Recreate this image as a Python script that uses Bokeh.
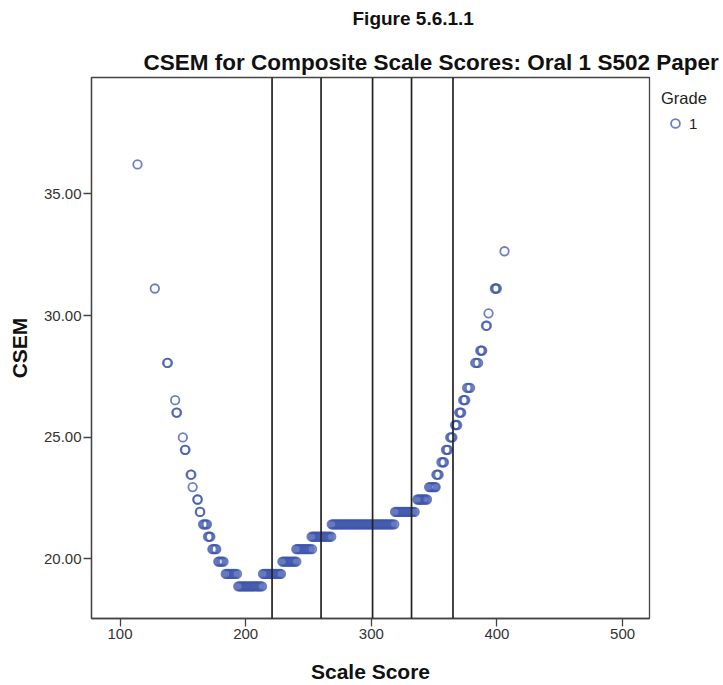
from bokeh.plotting import figure
from bokeh.models import (Span, Legend, LegendItem, FixedTicker, Title,
                          PrintfTickFormatter, Range1d, ColumnDataSource)
from bokeh.embed import file_html
from bokeh.resources import INLINE

# ---- data ----
csem_levels = [36.21, 32.64, 31.11, 30.09, 29.58, 28.56, 28.05, 27.03, 26.52,
               26.01, 25.50, 24.99, 24.48, 23.97, 23.46, 22.95, 22.44, 21.93,
               21.42, 20.91, 20.40, 19.89, 19.38, 18.87]

score_groups = [
    [113.9],                                                   # 36.21
    [406.0],                                                   # 32.64
    [127.7, 398.3, 399.1, 399.9],                              # 31.11
    [393.3],                                                   # 30.09
    [391.2, 392.0],                                            # 29.58
    [386.7, 387.5, 388.3],                                     # 28.56
    [137.5, 138.1, 382.7, 383.8, 385.0],                       # 28.05
    [376.2, 377.4, 378.6],                                     # 27.03
    [143.9, 373.1, 374.0, 374.8],                              # 26.52
    [144.8, 145.4, 369.9, 370.8, 371.6],                       # 26.01
    [366.6, 367.5, 368.4],                                     # 25.50
    [150.0, 362.8, 363.7, 364.5],                              # 24.99
    [151.6, 152.1, 359.4, 360.3, 361.1],                       # 24.48
    [355.8, 356.9, 357.8],                                     # 23.97
    [156.2, 156.8, 351.8, 352.7, 353.6],                       # 23.46
    [157.8, 346.0, 347.1, 348.2, 349.3, 350.4, 351.2],         # 22.95
    [161.5, 161.9, 336.6, 337.7, 338.8, 339.9, 341.0, 342.1,
     343.2, 344.3],                                            # 22.44
    [163.5, 163.9, 318.9, 320.0, 321.1, 322.2, 323.3, 324.4,
     325.5, 326.6, 327.7, 328.8, 329.9, 331.0, 332.1, 333.2,
     334.5],                                                   # 21.93
    [166.1, 167.1, 168.2, 169.2, 268.5, 269.6, 270.7, 271.8,
     272.9, 274.0, 275.1, 276.2, 277.3, 278.4, 279.5, 280.6,
     281.7, 282.8, 283.9, 285.0, 286.1, 287.2, 288.3, 289.4,
     290.5, 291.6, 292.7, 293.8, 294.9, 296.0, 297.1, 298.2,
     299.3, 300.4, 301.5, 302.6, 303.7, 304.8, 305.9, 307.0,
     308.1, 309.2, 310.3, 311.4, 312.5, 313.6, 314.7, 315.8,
     316.9, 318.3],                                            # 21.42
    [170.0, 171.0, 171.9, 252.5, 253.6, 254.7, 255.8, 256.9,
     258.0, 259.1, 260.2, 261.3, 262.4, 263.5, 264.6, 265.7,
     266.8, 268.1],                                            # 20.91
    [173.5, 174.5, 175.6, 176.6, 240.3, 241.4, 242.5, 243.6,
     244.7, 245.8, 246.9, 248.0, 249.1, 250.2, 251.3, 252.8],  # 20.40
    [178.2, 179.2, 180.3, 181.3, 182.4, 229.2, 230.3, 231.4,
     232.5, 233.6, 234.7, 235.8, 236.9, 238.0, 239.1, 240.3],  # 19.89
    [184.1, 185.2, 186.3, 187.4, 188.5, 189.6, 190.7, 191.8,
     193.1, 213.8, 214.9, 216.0, 217.1, 218.2, 219.3, 220.4,
     221.5, 222.6, 223.7, 224.8, 225.9, 227.0, 228.1],         # 19.38
    [194.1, 195.2, 196.3, 197.4, 198.5, 199.6, 200.7, 201.8,
     202.9, 204.0, 205.1, 206.2, 207.3, 208.4, 209.5, 210.6,
     211.8, 213.0],                                            # 18.87
]

cut_scores = [221, 260, 301, 332, 365]
x_ticks = [100, 200, 300, 400, 500]
y_ticks = [20, 25, 30, 35]
grade_label = "1"

# table for the glyph
xs, ys = [], []
for lvl, grp in zip(csem_levels, score_groups):
    xs.extend(grp)
    ys.extend([lvl] * len(grp))
src = ColumnDataSource(dict(score=xs, csem=ys))

FONT = "Liberation Sans"
DARK = "#3D56AB"

p = figure(frame_width=558, frame_height=541, output_backend="svg",
           toolbar_location=None,
           x_range=Range1d(77.3, 521.4), y_range=Range1d(17.55, 39.78),
           min_border_left=91, min_border_right=74, min_border_top=77,
           min_border_bottom=67, background_fill_color="white",
           border_fill_color="white")
p.xgrid.visible = False
p.ygrid.visible = False
p.outline_line_color = "#444444"
p.outline_line_width = 1.3

for ax in (p.xaxis[0], p.yaxis[0]):
    ax.axis_line_color = "#444444"
    ax.axis_line_width = 1.3
    ax.major_tick_line_color = "#444444"
    ax.major_tick_line_width = 1.3
    ax.major_tick_out = 8
    ax.major_tick_in = 0
    ax.minor_tick_line_color = None
    ax.major_label_text_font = FONT
    ax.major_label_text_font_size = "15px"
    ax.major_label_text_color = "#333333"
    ax.major_label_standoff = 2
    ax.axis_label_text_font = FONT
    ax.axis_label_text_font_size = "21px"
    ax.axis_label_text_font_style = "bold"
    ax.axis_label_text_color = "#111111"

p.xaxis.ticker = FixedTicker(ticks=x_ticks)
p.yaxis.ticker = FixedTicker(ticks=y_ticks)
p.yaxis.formatter = PrintfTickFormatter(format="%.2f")
p.xaxis.axis_label = "Scale Score"
p.yaxis.axis_label = "CSEM"
p.xaxis.axis_label_standoff = 18
p.yaxis.axis_label_standoff = 10

for c in cut_scores:
    p.add_layout(Span(location=c, dimension="height", line_color="#222222",
                      line_width=1.7))

r = p.scatter(x="score", y="csem", source=src, marker="circle", size=8.5,
              fill_color=None, line_color=DARK, line_width=1.8, line_alpha=0.75)

# titles: p.title is the outer one, the added Title sits nearer the frame
p.title.text = "Figure 5.6.1.1"
p.title.align = "left"
p.title.offset = 261
p.title.standoff = 0
p.title.text_font = FONT
p.title.text_font_size = "19px"
p.title.text_font_style = "bold"
p.title.text_color = "#111111"
p.title.padding = dict(top=0, right=0, bottom=16, left=0)

p.add_layout(Title(text="CSEM for Composite Scale Scores: Oral 1 S502 Paper",
                   align="left", offset=52, standoff=6, text_font=FONT,
                   text_font_size="22.5px", text_font_style="bold",
                   text_color="#111111"), "above")

legend = Legend(items=[LegendItem(label=grade_label, renderers=[r])],
                title="Grade", location="top_left", padding=0, margin=12,
                glyph_width=28, glyph_height=22, label_standoff=-3,
                title_standoff=4, border_line_color=None,
                background_fill_alpha=0, label_text_font=FONT,
                label_text_font_size="15px", label_text_color="#222222",
                title_text_font=FONT, title_text_font_size="16.5px",
                title_text_font_style="normal", title_text_color="#222222")
p.add_layout(legend, "right")

open("out.html", "w").write(file_html(p, INLINE))
